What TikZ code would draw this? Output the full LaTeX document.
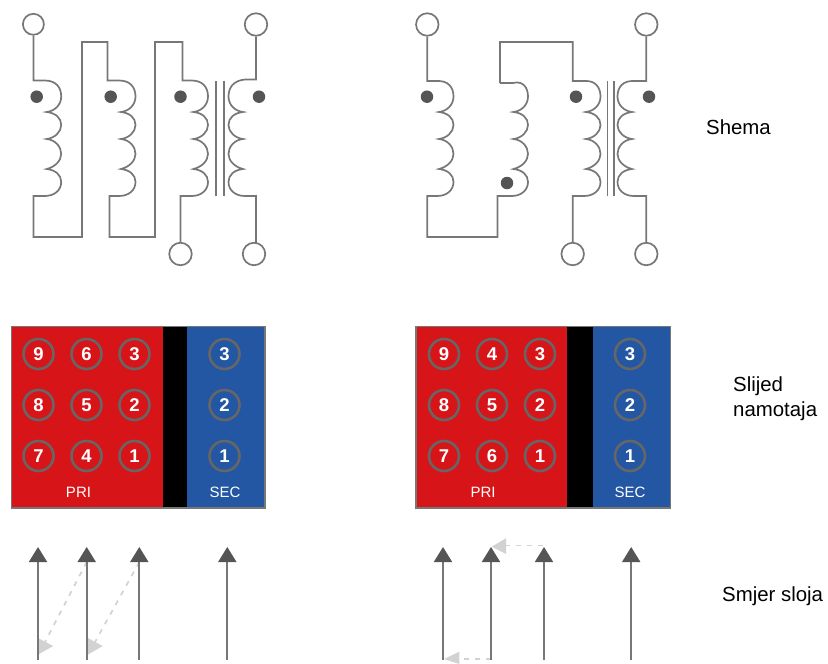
\documentclass[tikz,border=0pt]{standalone}
\usepackage{fontspec}
\setmainfont{Liberation Sans}
\usetikzlibrary{arrows.meta}
\definecolor{wire}{HTML}{777777}
\definecolor{dotc}{HTML}{555555}
\definecolor{redc}{HTML}{D71418}
\definecolor{bluec}{HTML}{2356A3}
\definecolor{ringc}{HTML}{666666}
\definecolor{lightc}{HTML}{D2D2D2}
\tikzset{
  wireline/.style={draw=wire,line width=1.7pt,line join=miter},
  terminal/.style={circle,draw=wire,fill=white,line width=1.7pt,minimum size=22.5pt,inner sep=0pt},
  wdot/.style={circle,fill=dotc,minimum size=12.5pt,inner sep=0pt},
  corebar/.style={draw=wire,line width=1.3pt},
  ring/.style={circle,draw=ringc,line width=2.6pt,minimum size=30pt,inner sep=0pt,text=white,font=\fontsize{18.5}{18.5}\selectfont\bfseries},
  tag/.style={text=white,inner sep=0pt,font=\fontsize{15}{15}\selectfont},
  side/.style={anchor=west,inner sep=0pt,text=black,font=\fontsize{20.4}{20.4}\selectfont},
  layer/.style={draw=wire,line width=1.8pt,
     arrows={-{Triangle[length=15pt,width=18pt,color=dotc]}}},
  hop/.style={draw=lightc,line width=1.7pt,dash pattern=on 5pt off 6pt},
  hophead/.style={fill=lightc,draw=none},
  secbox/.style={draw=wire,line width=1.2pt}
}
% #1 = x of the cusps, #2 = +1 or -1 (side of the bulge)
\newcommand\coilturns[2]{%
  .. controls (#1+#2*9,80.5) and (#1+#2*14.5,87) .. (#1+#2*14.5,96.5)
  .. controls (#1+#2*14.5,105) and (#1+#2*8,111) .. (#1+#2*0,112)
  .. controls (#1+#2*9,113) and (#1+#2*14.5,118) .. (#1+#2*14.5,125)
  .. controls (#1+#2*14.5,132) and (#1+#2*8,138) .. (#1+#2*0,139)
  .. controls (#1+#2*9,140) and (#1+#2*14.5,147) .. (#1+#2*14.5,154)
  .. controls (#1+#2*14.5,161) and (#1+#2*8,167) .. (#1+#2*0,169)
  .. controls (#1+#2*9,170) and (#1+#2*14.5,175) .. (#1+#2*14.5,182)
  .. controls (#1+#2*14.5,190) and (#1+#2*8,196) .. (#1+#2*-2,196)
}
\begin{document}
\begin{tikzpicture}[x=1pt,y=-1pt]
\useasboundingbox (0,0) rectangle (828,664);

% ---------- left schematic
\node[terminal,minimum size=21pt] (a1) at (33.4,24.3) {};
\node[terminal] (a2) at (256,24.5) {};
\node[terminal] (a3) at (180.5,254) {};
\node[terminal] (a4) at (254,254) {};
\draw[wireline] (a1.south) -- (33.4,80.5) -- (44.7,80.5) \coilturns{46.7}{1} -- (33.4,196)
  -- (33.4,237) -- (82,237) -- (82,42) -- (107.5,42) -- (107.5,80.5) -- (119,80.5)
  \coilturns{121}{1} -- (109.5,196) -- (109.5,237) -- (155,237) -- (155,42) -- (182.5,42)
  -- (182.5,80.5) -- (191.5,80.5) \coilturns{193.5}{1} -- (180.5,196) -- (a3.north);
\draw[wireline] (a2.south) -- (256,79.5) -- (245,79.5) \coilturns{243}{-1} -- (256,196) -- (256,243);
\draw[corebar] (216,81) -- (216,196);
\draw[corebar] (224,81) -- (224,196);
\node[wdot] (ad1) at (36.7,96.7) {};
\node[wdot] (ad2) at (110.7,96.7) {};
\node[wdot] (ad3) at (180.5,96.7) {};
\node[wdot] (ad4) at (259,96.7) {};

% ---------- right schematic
\node[terminal] (b1) at (427.3,24.5) {};
\node[terminal] (b2) at (646.3,24.5) {};
\node[terminal] (b3) at (572.7,254) {};
\node[terminal] (b4) at (646.3,254) {};
\draw[wireline] (b1.south) -- (427.3,81) -- (437,81) \coilturns{439}{1} -- (427.3,196)
  -- (427.3,237) -- (497.5,237) -- (497.5,196) -- (513,196);
\draw[wireline] (500,83) -- (513,83) \coilturns{513.5}{1} -- (497.5,196);
\draw[wireline] (500,83) -- (500,42) -- (572.7,42) -- (572.7,81) -- (585,81)
  \coilturns{586}{1} -- (572.7,196) -- (b3.north);
\draw[wireline] (b2.south) -- (646.3,81) -- (634,81) \coilturns{632}{-1} -- (646.3,196) -- (b4.north);
\draw[corebar] (607.5,81) -- (607.5,196);
\draw[corebar] (614,81) -- (614,196);
\node[wdot] (bd1) at (427,96.7) {};
\node[wdot] (bd2) at (507,183) {};
\node[wdot] (bd3) at (576,96.7) {};
\node[wdot] (bd4) at (649,96.7) {};

% ---------- left winding block
\fill[redc] (11.5,326.5) rectangle (162.5,508);
\fill[black] (162.5,326.5) rectangle (187,508);
\fill[bluec] (187,326.5) rectangle (265,508);
\draw[secbox] (11.5,326.5) rectangle (265,508);
\node[ring] (l9) at (38.5,354) {9};
\node[ring] (l6) at (86.5,354) {6};
\node[ring] (l3) at (134.5,354) {3};
\node[ring] (l8) at (38.5,405) {8};
\node[ring] (l5) at (86.5,405) {5};
\node[ring] (l2) at (134.5,405) {2};
\node[ring] (l7) at (38.5,456) {7};
\node[ring] (l4) at (86.5,456) {4};
\node[ring] (l1) at (134.5,456) {1};
\node[ring] (ls3) at (224.5,354) {3};
\node[ring] (ls2) at (224.5,405) {2};
\node[ring] (ls1) at (224.5,456) {1};
\node[tag] (lp) at (78.5,492) {PRI};
\node[tag] (ls) at (225,492) {SEC};

% ---------- right winding block
\fill[redc] (416,326.5) rectangle (566.5,508);
\fill[black] (566.5,326.5) rectangle (593,508);
\fill[bluec] (593,326.5) rectangle (670.5,508);
\draw[secbox] (416,326.5) rectangle (670.5,508);
\node[ring] (r9) at (444,354) {9};
\node[ring] (r4) at (492,354) {4};
\node[ring] (r3) at (540,354) {3};
\node[ring] (r8) at (444,405) {8};
\node[ring] (r5) at (492,405) {5};
\node[ring] (r2) at (540,405) {2};
\node[ring] (r7) at (444,456) {7};
\node[ring] (r6) at (492,456) {6};
\node[ring] (r1) at (540,456) {1};
\node[ring] (rs3) at (630,354) {3};
\node[ring] (rs2) at (630,405) {2};
\node[ring] (rs1) at (630,456) {1};
\node[tag] (rp) at (483,492) {PRI};
\node[tag] (rs) at (630,492) {SEC};

% ---------- layer direction, left
\coordinate (u1) at (38,660); \coordinate (v1) at (38,547);
\coordinate (u2) at (86.7,660); \coordinate (v2) at (86.7,547);
\coordinate (u3) at (139.3,660); \coordinate (v3) at (139.3,547);
\coordinate (u4) at (227.3,660); \coordinate (v4) at (227.3,547);
\draw[hop] (86.7,562) -- (45,642);
\draw[hop] (139.3,562) -- (95,642);
\fill[hophead] (37.3,637.7) -- (53.3,646) -- (37.3,655) -- cycle;
\fill[hophead] (87.3,637.7) -- (102.7,646) -- (87.3,655) -- cycle;
\draw[layer] (u1) -- (v1);
\draw[layer] (u2) -- (v2);
\draw[layer] (u3) -- (v3);
\draw[layer] (u4) -- (v4);

% ---------- layer direction, right
\coordinate (p1) at (443,660); \coordinate (q1) at (443,547);
\coordinate (p2) at (491,660); \coordinate (q2) at (491,547);
\coordinate (p3) at (544,660); \coordinate (q3) at (544,547);
\coordinate (p4) at (631.2,660); \coordinate (q4) at (631.2,547);
\draw[hop] (543,545.5) -- (506,545.5);
\draw[hop] (491,659) -- (459,659);
\fill[hophead] (491.7,546.7) -- (506,538.3) -- (506,554) -- cycle;
\fill[hophead] (444,659) -- (459.3,651.7) -- (459.3,664) -- cycle;
\draw[layer] (p1) -- (q1);
\draw[layer] (p2) -- (q2);
\draw[layer] (p3) -- (q3);
\draw[layer] (p4) -- (q4);

% ---------- captions
\node[side] (c1) at (706,127) {Shema};
\node[side] (c2) at (733,386) {Slijed};
\node[side] (c3) at (733,411) {namotaja};
\node[side] (c4) at (722,596) {Smjer sloja};
\end{tikzpicture}
\end{document}
